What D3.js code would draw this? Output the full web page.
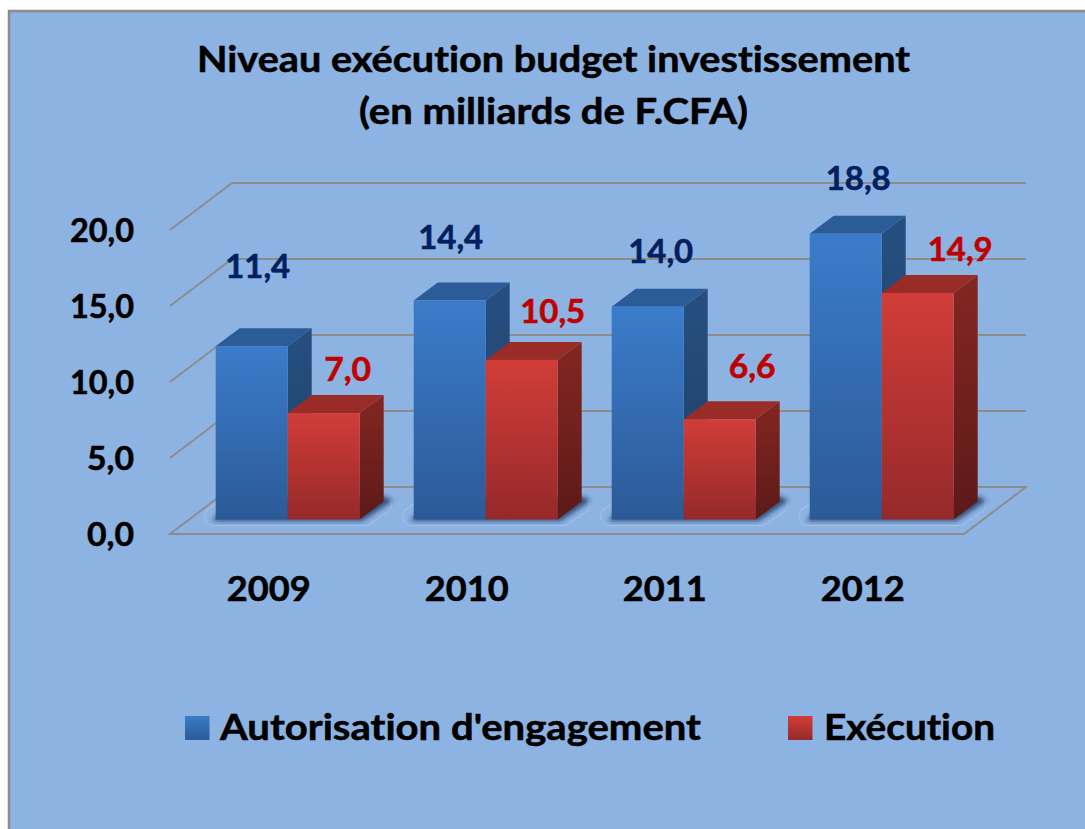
<!DOCTYPE html>
<html><head><meta charset="utf-8">
<script src="https://cdnjs.cloudflare.com/ajax/libs/d3/7.8.5/d3.min.js"></script>
<style>html,body{margin:0;padding:0;background:#fff}svg{display:block}text{font-family:Lato,"Open Sans",sans-serif;font-weight:700;font-variant-ligatures:none;stroke-width:.55px;paint-order:stroke}</style>
</head><body><div id="chart"></div>
<script>
const years = ["2009","2010","2011","2012"];
const autorisation = [11.4,14.4,14.0,18.8];
const execution = [7.0,10.5,6.6,14.9];
const seriesNames = ["Autorisation d'engagement","Exécution"];
const yTicks = [0,5,10,15,20];
const titleLines = ["Niveau exécution budget investissement","(en milliards de F.CFA)"];
// hand-placed label offsets from each bar's front-top centre, as in the original
const blueLabelNudge = [[6,-68],[1,-52],[13,-44],[12.5,-44]];
const redLabelNudge = [[24,-32],[31,-37],[32.5,-41],[42.5,-32]];

const W=1085,H=829, depthX=24, depthY=18, wallX=62, wallY=47;
const fmt = v => d3.format(".1f")(v).replace(".",",");
const svg = d3.select("#chart").append("svg").attr("width",W).attr("height",H);
const defs = svg.append("defs");
function grad(id,a,b){const g=defs.append("linearGradient").attr("id",id).attr("x1",0).attr("y1",0).attr("x2",0).attr("y2",1);
  g.append("stop").attr("offset",0).attr("stop-color",a);g.append("stop").attr("offset",1).attr("stop-color",b);}
grad("bf","#3B7CCA","#2B5A97");grad("bs","#264F80","#1E4068");
grad("rf","#D13D38","#96292A");grad("rs","#842622","#5C1A18");
defs.append("filter").attr("id","blur").attr("x","-20%").attr("y","-50%").attr("width","140%").attr("height","200%")
  .append("feGaussianBlur").attr("stdDeviation",2.6);

// panel
svg.append("rect").attr("x",9).attr("y",11).attr("width",W).attr("height",H).attr("fill","#8DB3E3").attr("stroke","#8c8c8c").attr("stroke-width",2.5);

function fitted(sel,len){return sel.attr("textLength",len).attr("lengthAdjust","spacingAndGlyphs").attr("stroke",sel.attr("fill"));}

// title
const titleBox=[[553.5,72,713],[553.5,124,389]];
titleLines.forEach((t,i)=>fitted(svg.append("text").attr("x",titleBox[i][0]).attr("y",titleBox[i][1]).attr("text-anchor","middle").attr("font-size",36).attr("fill","#000").text(t),titleBox[i][2]));

// scales: the front-of-floor, bar and back-wall planes share one unit length
const x = d3.scaleBand().domain(years).range([188.7,980.7]);
const sub = d3.scaleBand().domain(seriesNames).range([-72,72]);
const yBack = d3.scaleLinear().domain([0,20]).range([487,183]);
const yBar = d3.scaleLinear().domain([0,20]).range([519.5,215.5]);
const wallLeft=232, wallRight=1026;
const gridC="#8c8c8c";

// walls
const g = svg.append("g");
g.selectAll(".grid").data(yTicks.slice(1)).join("path").attr("class","grid").attr("fill","none").attr("stroke",gridC).attr("stroke-width",1.8)
  .attr("d",d=>d3.line()([[wallLeft-wallX,yBack(d)+wallY],[wallLeft,yBack(d)],[wallRight,yBack(d)]]));
g.append("path").attr("fill","none").attr("stroke",gridC).attr("stroke-width",1.9).attr("stroke-linejoin","miter")
  .attr("d",d3.line()([[wallLeft-wallX,yBack(0)+wallY],[wallRight-wallX,yBack(0)+wallY],[wallRight,yBack(0)],[wallLeft,yBack(0)]])+"Z");

// halo + soft shadow under each cluster
function rounded(pts,r){const p=d3.path(),n=pts.length;
  const m=[(pts[0][0]+pts[n-1][0])/2,(pts[0][1]+pts[n-1][1])/2];p.moveTo(m[0],m[1]);
  pts.forEach((q,i)=>{const s=pts[(i+1)%n];p.arcTo(q[0],q[1],s[0],s[1],r);});p.closePath();return p.toString();}
years.forEach(y=>{
  const L=x(y)+x.bandwidth()/2-72,R=L+144,F=yBar(0);
  g.append("path").attr("fill","none").attr("stroke","#A5C5EB").attr("stroke-width",1)
    .attr("d",rounded([[L-30,F+6],[R+8,F+6],[R+52,F-24],[L+12,F-24]],9));
  g.append("path").attr("fill","#2d4a73").attr("opacity",.95).attr("filter","url(#blur)")
    .attr("d",d3.line()([[L-4,F+1.5],[R+3,F+1.5],[R+33,F-19],[R+26,F-23],[L+20,F-23]])+"Z");
});

// bars
function bar(parent,cx,w,v,front,side,top){
  const x0=cx,x1=cx+w,y0=yBar(v),yb=yBar(0);
  const l=d3.line();
  parent.append("path").attr("fill",top).attr("d",l([[x0,y0],[x1,y0],[x1+depthX,y0-depthY],[x0+depthX,y0-depthY]])+"Z");
  parent.append("path").attr("fill",`url(#${side})`).attr("d",l([[x1,y0],[x1+depthX,y0-depthY],[x1+depthX,yb-depthY],[x1,yb]])+"Z");
  parent.append("rect").attr("x",x0).attr("y",y0).attr("width",w).attr("height",yb-y0).attr("fill",`url(#${front})`);
}
years.forEach((y,i)=>{
  const c=x(y)+x.bandwidth()/2, gb=svg.append("g");
  bar(gb,c+sub(seriesNames[0]),sub.bandwidth(),autorisation[i],"bf","bs","#2B5C97");
  bar(gb,c+sub(seriesNames[1]),sub.bandwidth(),execution[i],"rf","rs","#9A2C28");
});

// data labels
function labels(vals,nudge,name,color){
  svg.selectAll("."+name).data(vals).join("text").attr("class",name).attr("text-anchor","middle").attr("font-size",33).attr("fill",color)
    .attr("x",(d,i)=>x(years[i])+x.bandwidth()/2+sub(seriesNames[name=="lb"?0:1])+36+nudge[i][0])
    .attr("y",(d,i)=>yBar(d)+nudge[i][1]).text(fmt)
    .each(function(d){fitted(d3.select(this),fmt(d).length==4?65:47);});
}
labels(autorisation,blueLabelNudge,"lb","#002060");
labels(execution,redLabelNudge,"lr","#C00000");

// y tick labels
svg.selectAll(".yt").data(yTicks).join("text").attr("class","yt").attr("text-anchor","end").attr("font-size",33).attr("fill","#000")
  .attr("x",134).attr("y",d=>yBack(d)+wallY+12).text(fmt)
  .each(function(d){fitted(d3.select(this),fmt(d).length==4?64:47);});

// x tick labels
svg.selectAll(".xt").data(years).join("text").attr("class","xt").attr("text-anchor","middle").attr("font-size",35).attr("fill","#000")
  .attr("x",d=>x(d)+x.bandwidth()/2-19).attr("y",601).text(d=>d)
  .each(function(){fitted(d3.select(this),84);});

// legend
const legendPos=[{sx:185,tx:220,tw:481,f:"bf"},{sx:788,tx:824,tw:171,f:"rf"}];
seriesNames.forEach((s,i)=>{
  const p=legendPos[i];
  svg.append("rect").attr("x",p.sx).attr("y",716).attr("width",24.5).attr("height",24).attr("fill",`url(#${p.f})`);
  fitted(svg.append("text").attr("x",p.tx).attr("y",740).attr("font-size",36).attr("fill","#000").text(s),p.tw);
});
</script></body></html>
